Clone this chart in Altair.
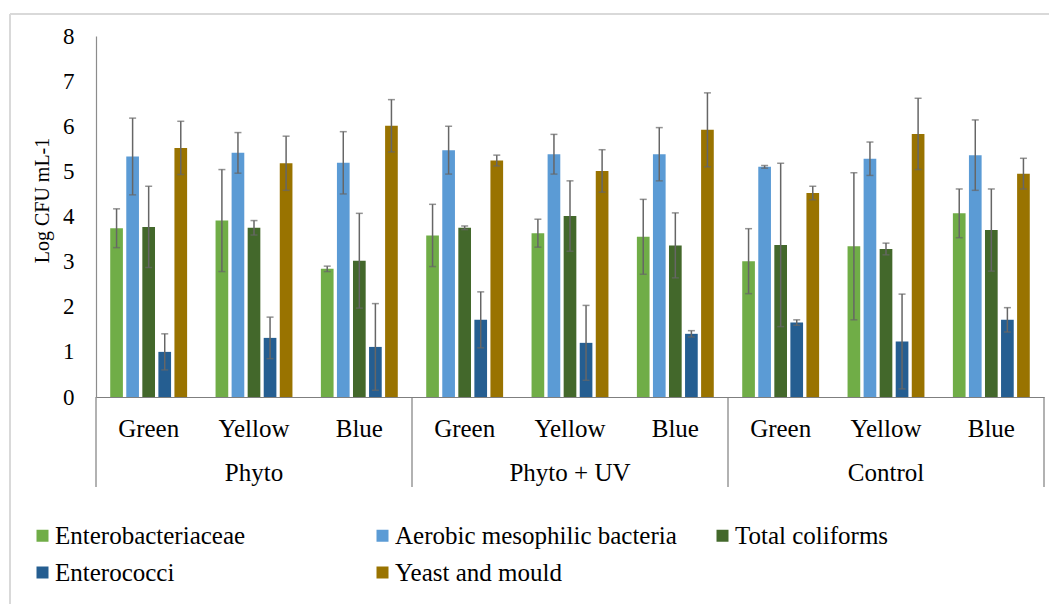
import altair as alt
import pandas as pd

# Treatments, light colours and microbial groups
groups = ["Phyto", "Phyto + UV", "Control"]
lights = ["Green", "Yellow", "Blue"]
series = [
    "Enterobacteriaceae",
    "Aerobic mesophilic bacteria",
    "Total coliforms",
    "Enterococci",
    "Yeast and mould",
]
colors = ["#70AD47", "#5B9BD5", "#43682B", "#255E91", "#997300"]

# Mean log counts, order: Phyto G/Y/B, Phyto + UV G/Y/B, Control G/Y/B
enterobacteriaceae = [3.74, 3.91, 2.84, 3.58, 3.63, 3.55, 3.01, 3.34, 4.07]
aerobic_mesophilic = [5.33, 5.41, 5.19, 5.47, 5.38, 5.38, 5.10, 5.28, 5.36]
total_coliforms = [3.77, 3.75, 3.02, 3.75, 4.01, 3.36, 3.37, 3.28, 3.70]
enterococci = [1.00, 1.31, 1.11, 1.71, 1.20, 1.40, 1.65, 1.23, 1.71]
yeast_mould = [5.52, 5.18, 6.01, 5.24, 5.01, 5.92, 4.52, 5.83, 4.95]

# Standard deviations, same order
enterobacteriaceae_sd = [0.43, 1.13, 0.06, 0.69, 0.31, 0.83, 0.72, 1.63, 0.54]
aerobic_mesophilic_sd = [0.85, 0.45, 0.69, 0.53, 0.44, 0.59, 0.03, 0.37, 0.78]
total_coliforms_sd = [0.90, 0.16, 1.05, 0.04, 0.78, 0.72, 1.81, 0.13, 0.91]
enterococci_sd = [0.40, 0.46, 0.96, 0.62, 0.83, 0.07, 0.06, 1.05, 0.27]
yeast_mould_sd = [0.59, 0.60, 0.58, 0.12, 0.47, 0.82, 0.15, 0.79, 0.34]

y_ticks = [0, 1, 2, 3, 4, 5, 6, 7, 8]

means = [enterobacteriaceae, aerobic_mesophilic, total_coliforms, enterococci, yeast_mould]
sds = [enterobacteriaceae_sd, aerobic_mesophilic_sd, total_coliforms_sd, enterococci_sd, yeast_mould_sd]

cats = [f"{g}|{l}" for g in groups for l in lights]
rows = []
for s, m, e in zip(series, means, sds):
    for c, v, d in zip(cats, m, e):
        rows.append({"cat": c, "series": s, "value": v, "lo": v - d, "hi": v + d})
df = pd.DataFrame(rows)

W, H = 948, 361
FONT = "Liberation Serif"
PAD_IN = 0.27
# half of the inner padding in pixels: distance from a band edge to the category boundary
EDGE_PX = (PAD_IN / 2) * W / len(cats)

x_scale = alt.Scale(domain=cats, paddingInner=PAD_IN, paddingOuter=PAD_IN / 2)
x_enc = alt.X(
    "cat:N",
    scale=x_scale,
    title=None,
    axis=alt.Axis(
        labelExpr="split(datum.label, '|')[1]",
        labelFont=FONT,
        labelFontSize=25,
        labelColor="#000000",
        labelAngle=0,
        labelPadding=19,
        labelBaseline="top",
        ticks=False,
        domainColor="#7f7f7f",
        domainWidth=1.2,
    ),
)
xoff = alt.XOffset("series:N", sort=series, scale=alt.Scale(paddingInner=0.21, paddingOuter=0))
y_scale = alt.Scale(domain=[0, 8], nice=False)

base = alt.Chart(df)

bars = base.mark_bar().encode(
    x=x_enc,
    xOffset=xoff,
    y=alt.Y(
        "value:Q",
        scale=y_scale,
        title="Log CFU mL-1",
        axis=alt.Axis(
            values=y_ticks,
            grid=False,
            ticks=False,
            labelFont=FONT,
            labelFontSize=23,
            labelColor="#000000",
            labelPadding=22,
            domainColor="#8c8c8c",
            domainWidth=1.2,
            titleFont=FONT,
            titleFontSize=20,
            titleFontWeight="normal",
            titleColor="#000000",
            titleX=-54,
            titleY=164,
            titleAlign="center",
            titleBaseline="middle",
        ),
    ),
    color=alt.Color(
        "series:N",
        sort=series,
        scale=alt.Scale(domain=series, range=colors),
        legend=alt.Legend(
            title=None,
            orient="none",
            direction="horizontal",
            legendX=-66,
            legendY=487,
            columns=3,
            gridAlign="all",
            columnPadding=33,
            rowPadding=11,
            symbolType="square",
            symbolSize=144,
            symbolStrokeWidth=0,
            labelFont=FONT,
            labelFontSize=25,
            labelColor="#000000",
            labelOffset=0,
            labelLimit=400,
            padding=0,
        ),
    ),
)

err_color = "#666666"
whiskers = base.mark_rule(color=err_color, strokeWidth=1.5).encode(
    x=alt.X("cat:N", scale=x_scale),
    xOffset=xoff,
    y=alt.Y("lo:Q", scale=y_scale),
    y2="hi:Q",
)
caps_hi = base.mark_tick(color=err_color, size=7, thickness=1.5).encode(
    x=alt.X("cat:N", scale=x_scale),
    xOffset=xoff,
    y=alt.Y("hi:Q", scale=y_scale),
)
caps_lo = base.mark_tick(color=err_color, size=7, thickness=1.5).encode(
    x=alt.X("cat:N", scale=x_scale),
    xOffset=xoff,
    y=alt.Y("lo:Q", scale=y_scale),
)

# Treatment names under the middle light of each treatment
grp_df = pd.DataFrame({"cat": [f"{g}|Yellow" for g in groups], "group": groups})
group_labels = alt.Chart(grp_df).mark_text(
    font=FONT, fontSize=25, color="#000000", baseline="middle", align="center"
).encode(
    x=alt.X("cat:N", scale=x_scale),
    y=alt.value(437),
    text="group:N",
)

# Separators between treatments on the category axis
left_edges = pd.DataFrame({"cat": [f"{g}|Green" for g in groups]})
right_edge = pd.DataFrame({"cat": [f"{groups[-1]}|Blue"]})
sep_left = alt.Chart(left_edges).mark_rule(
    color="#7f7f7f", strokeWidth=1.2, xOffset=-EDGE_PX
).encode(
    x=alt.X("cat:N", scale=x_scale, bandPosition=0),
    y=alt.value(H),
    y2=alt.value(H + 90),
)
sep_right = alt.Chart(right_edge).mark_rule(
    color="#7f7f7f", strokeWidth=1.2, xOffset=EDGE_PX
).encode(
    x=alt.X("cat:N", scale=x_scale, bandPosition=1),
    y=alt.value(H),
    y2=alt.value(H + 90),
)

# Outer frame of the figure
frame_left = alt.Chart(grp_df).mark_rule(color="#d9d9d9", strokeWidth=1.5).encode(
    x=alt.value(-86), y=alt.value(-22), y2=alt.value(604)
)
frame_top = alt.Chart(grp_df).mark_rule(color="#d9d9d9", strokeWidth=1.5).encode(
    x=alt.value(-86), x2=alt.value(1000), y=alt.value(-22)
)

chart = alt.layer(
    frame_left, frame_top, bars, whiskers, caps_hi, caps_lo, group_labels, sep_left, sep_right
).properties(
    width=W,
    height=H,
    autosize=alt.AutoSizeParams(type="none"),
    padding={"left": 96, "top": 36, "right": 5, "bottom": 207},
    background="white",
).configure_view(stroke=None)

chart.save("out.html", embed_options={"renderer": "svg", "actions": False})
